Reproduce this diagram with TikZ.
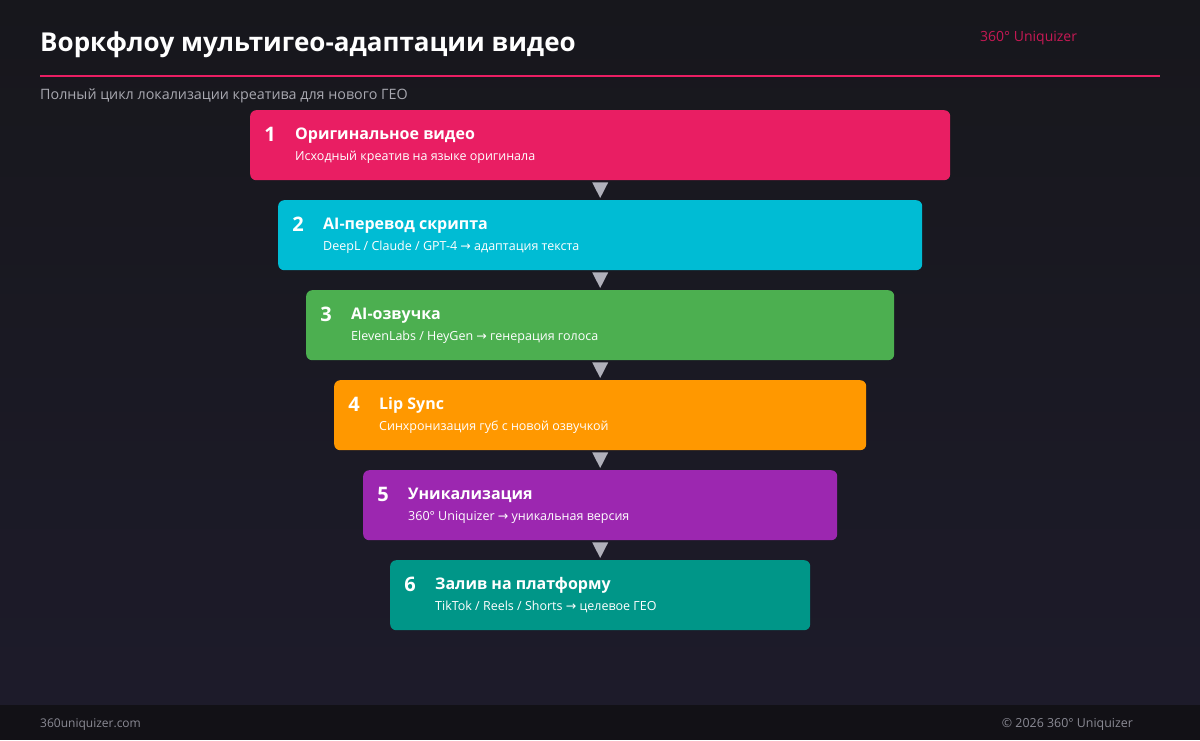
\documentclass[tikz,border=0pt]{standalone}
\usepackage{fontspec}
\setmainfont{Open Sans}
\newfontfamily\symfont{DejaVu Sans}
\newcommand{\arr}{{\symfont →}}
\usetikzlibrary{calc}
\definecolor{bgtop}{HTML}{17171C}
\definecolor{bgbot}{HTML}{1D1B2A}
\definecolor{footbg}{HTML}{121116}
\definecolor{accent}{HTML}{E91E63}
\definecolor{cA}{HTML}{E91E63}
\definecolor{cB}{HTML}{00BCD4}
\definecolor{cC}{HTML}{4CAF50}
\definecolor{cD}{HTML}{FF9800}
\definecolor{cE}{HTML}{9C27B0}
\definecolor{cF}{HTML}{009688}
\definecolor{arrowc}{HTML}{B0B0BA}
\definecolor{subgray}{HTML}{A8A8B0}
\definecolor{footgray}{HTML}{8A8A94}
\tikzset{
  stepbox/.style={rounded corners=6pt, minimum height=70pt, inner sep=0pt, anchor=north west},
  numtxt/.style={text=white, font=\fontsize{20}{24}\selectfont\bfseries, anchor=base, inner sep=0pt},
  ttltxt/.style={text=white, font=\fontsize{16}{19}\selectfont\bfseries, anchor=base west, inner sep=0pt},
  subtxt/.style={text=white, font=\fontsize{12.5}{14}\selectfont, anchor=base west, inner sep=0pt},
  tri/.style={fill=arrowc},
}
\newcommand{\stepitem}[7]{%
  \node[stepbox, fill=#4, minimum width=#3pt] (b#1) at (#2,#7) {};
  \node[numtxt] (n#1) at ($(b#1.north west)+(20,31)$) {#1};
  \node[ttltxt] (t#1) at ($(b#1.north west)+(45,29)$) {#5};
  \node[subtxt] (s#1) at ($(b#1.north west)+(45,50)$) {#6};
}
\begin{document}
\begin{tikzpicture}[x=1pt,y=-1pt]
\useasboundingbox (0,0) rectangle (1200,740);
\shade[top color=bgtop, bottom color=bgbot] (0,0) rectangle (1200,705);
\fill[footbg] (0,705) rectangle (1200,740);
% header
\node[text=white, font=\fontsize{26}{30}\selectfont\bfseries, anchor=base west, inner sep=0pt] (title) at (40,51) {Воркфлоу мультигео-адаптации видео};
\node[text=accent!85!black, font=\fontsize{14}{17}\selectfont, anchor=base west, inner sep=0pt] (brand) at (980,41) {360° Uniquizer};
\coordinate (l1) at (40,76);
\coordinate (l2) at (1160,76);
\draw[accent, line width=2pt] (l1) -- (l2);
\node[text=subgray, font=\fontsize{14.3}{17}\selectfont, anchor=base west, inner sep=0pt] (subtitle) at (40,99) {Полный цикл локализации креатива для нового ГЕО};
% steps
\stepitem{1}{250}{700}{cA}{Оригинальное видео}{Исходный креатив на языке оригинала}{110}
\stepitem{2}{278}{644}{cB}{AI-перевод скрипта}{DeepL / Claude / GPT-4 \arr{} адаптация текста}{200}
\stepitem{3}{306}{588}{cC}{AI-озвучка}{ElevenLabs / HeyGen \arr{} генерация голоса}{290}
\stepitem{4}{334}{532}{cD}{Lip Sync}{Синхронизация губ с новой озвучкой}{380}
\stepitem{5}{363}{474}{cE}{Уникализация}{360° Uniquizer \arr{} уникальная версия}{470}
\stepitem{6}{390}{420}{cF}{Залив на платформу}{TikTok / Reels / Shorts \arr{} целевое ГЕО}{560}
% arrows
\foreach \a/\b in {1/2,2/3,3/4,4/5,5/6}{
  \fill[tri] ($(b\a.south)+(-8,2)$) -- ($(b\a.south)+(8,2)$) -- ($(b\b.north)+(0,-2)$) -- cycle;
}
% footer
\node[text=footgray, font=\fontsize{12}{14}\selectfont, anchor=base west, inner sep=0pt] (f1) at (40,727) {360uniquizer.com};
\node[text=footgray, font=\fontsize{12.4}{14}\selectfont, anchor=base east, inner sep=0pt] (f2) at (1133,727) {© 2026 360° Uniquizer};
\end{tikzpicture}
\end{document}
